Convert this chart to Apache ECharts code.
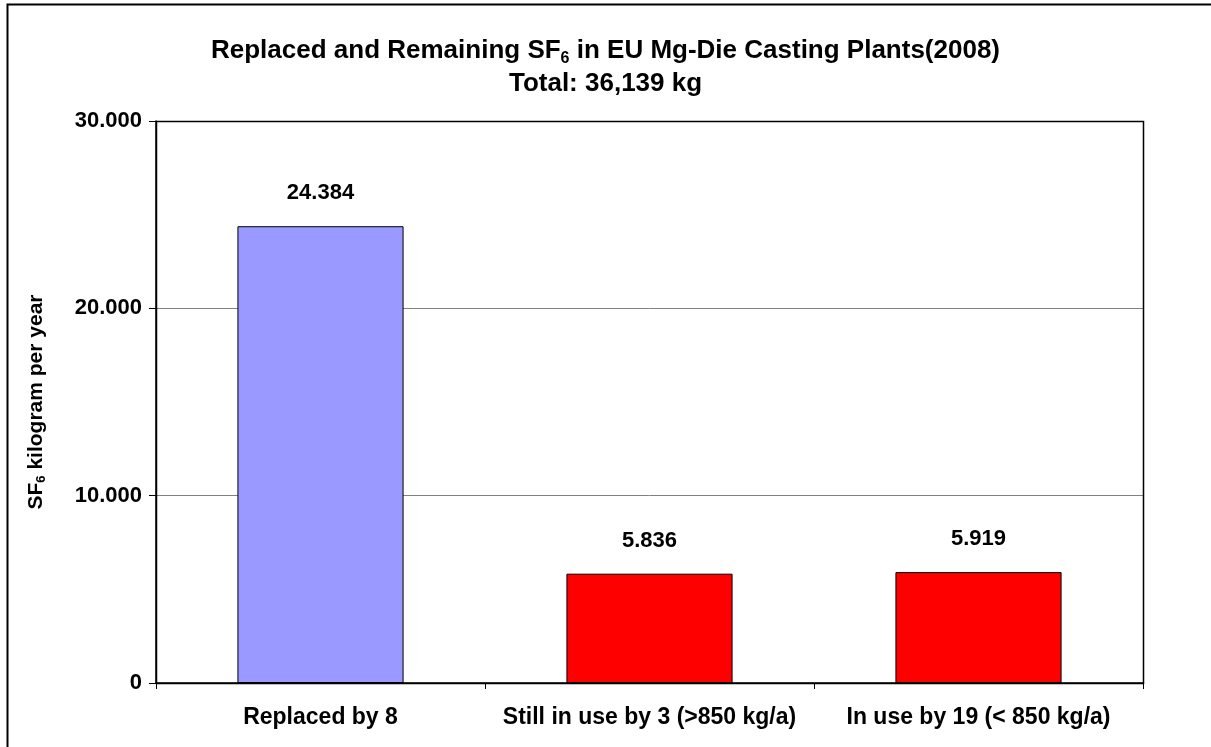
<!DOCTYPE html>
<html>
<head>
<meta charset="utf-8">
<script src="https://cdn.jsdelivr.net/npm/echarts@6/dist/echarts.min.js"></script>
<style>html,body{margin:0;padding:0;background:#fff}#c{width:1211px;height:747px}</style>
</head>
<body>
<div id="c"></div>
<script>
var categories = ['Replaced by 8', 'Still in use by 3 (>850 kg/a)', 'In use by 19 (< 850 kg/a)'];
var values = [24384, 5836, 5919];
var barColors = ['#9999FF', '#FF0000', '#FF0000'];
var yTicks = [0, 10000, 20000, 30000];

function fmt(v) {
  if (v === 0) return '0';
  var s = String(Math.round(v));
  return s.replace(/\B(?=(\d{3})+(?!\d))/g, '.');
}

var chart = echarts.init(document.getElementById('c'), null, {renderer: 'canvas'});
var font = 'Liberation Sans, Arial, sans-serif';
chart.setOption({
  animation: false,
  backgroundColor: '#fff',
  graphic: [{
    type: 'rect', shape: {x: 7.5, y: 4.5, width: 1300, height: 800},
    style: {fill: 'none', stroke: '#000', lineWidth: 2}, z: 100
  }, {
    type: 'rect', shape: {x: 156.5, y: 121.5, width: 987, height: 562},
    style: {fill: 'none', stroke: '#000', lineWidth: 1.5}, z: 50
  }],
  title: {
    text: '{t|Replaced and Remaining SF}{s|6}{t| in EU Mg-Die Casting Plants(2008)}\n{t|Total: 36,139 kg}',
    left: 'center', top: 29,
    textStyle: {
      rich: {
        t: {fontFamily: font, fontWeight: 'bold', fontSize: 26, color: '#000', lineHeight: 33},
        s: {fontFamily: font, fontWeight: 'bold', fontSize: 16, color: '#000', verticalAlign: 'bottom', padding: [12, 0, 0, 0], lineHeight: 33}
      }
    }
  },
  grid: {left: 156, right: 68, top: 121, bottom: 64, containLabel: false},
  xAxis: {
    type: 'category',
    data: categories,
    axisLine: {lineStyle: {color: '#000', width: 1.5}},
    axisTick: {show: true, length: 6, inside: false, lineStyle: {color: '#000'}},
    axisLabel: {interval: 0, hideOverlap: false, fontFamily: font, fontWeight: 'bold', fontSize: 23, color: '#000', margin: 23},
    splitLine: {show: false}
  },
  yAxis: {
    type: 'value',
    min: 0, max: 30000, interval: 10000,
    name: '{t|SF}{s|6}{t| kilogram per year}',
    nameLocation: 'middle', nameGap: 108, nameRotate: 90,
    nameTextStyle: {
      padding: [0, 0, 0, 0],
      rich: {
        t: {fontFamily: font, fontWeight: 'bold', fontSize: 21, color: '#000'},
        s: {fontFamily: font, fontWeight: 'bold', fontSize: 13, color: '#000', verticalAlign: 'bottom', padding: [10, 0, 0, 0]}
      }
    },
    axisLine: {show: true, lineStyle: {color: '#000', width: 1.5}},
    axisTick: {show: true, length: 7, lineStyle: {color: '#000'}},
    axisLabel: {fontFamily: font, fontWeight: 'bold', fontSize: 22, color: '#000', margin: 14, formatter: function (v) { return fmt(v); }},
    splitLine: {show: true, lineStyle: {color: '#808080', width: 1}}
  },
  series: [{
    type: 'bar',
    barWidth: '50.5%',
    data: values.map(function (v, i) {
      return {value: v, itemStyle: {color: barColors[i], borderColor: '#000', borderWidth: 1}};
    }),
    label: {
      show: true, position: 'top', distance: 22,
      fontFamily: font, fontWeight: 'bold', fontSize: 22, color: '#000',
      formatter: function (p) { return fmt(p.value); }
    }
  }]
});
</script>
</body>
</html>
